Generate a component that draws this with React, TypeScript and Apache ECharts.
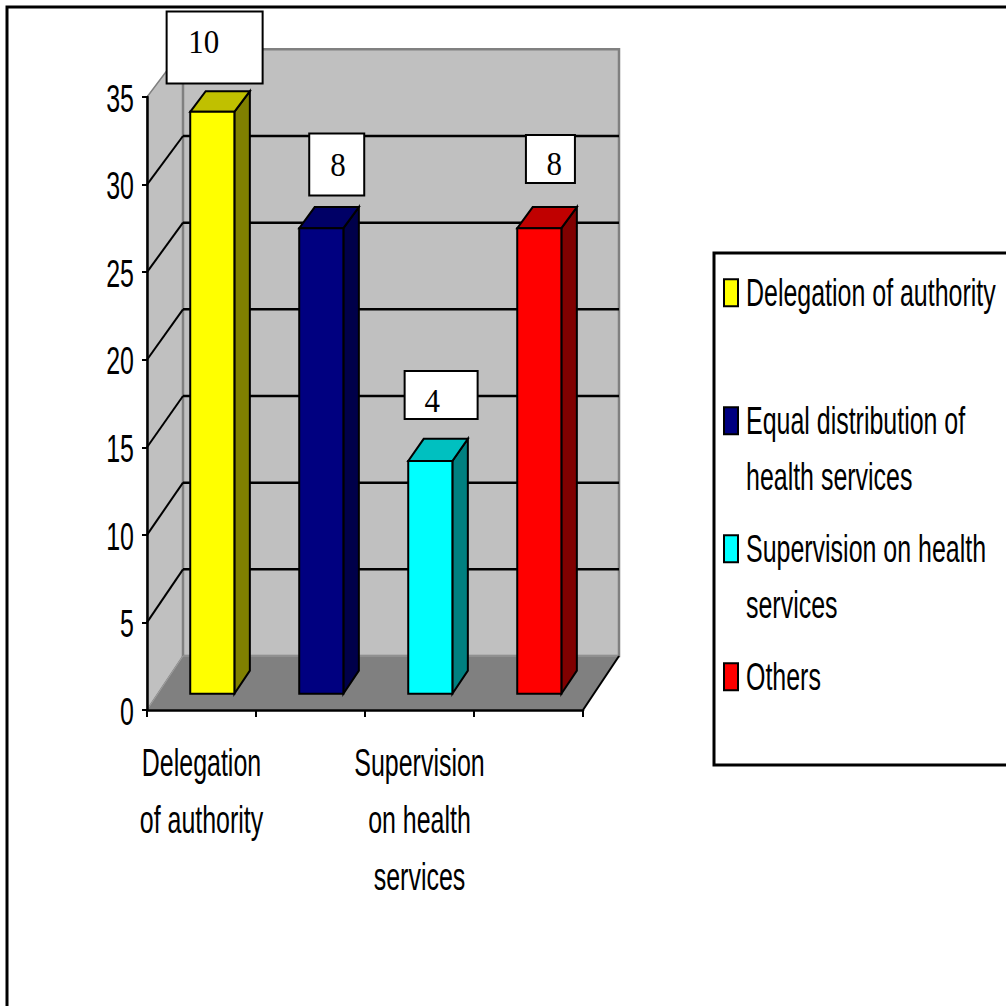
import React, { useEffect, useRef } from 'react';
import * as echarts from 'echarts';

// ---- data ----
const categories = [
  'Delegation of authority',
  'Equal distribution of health services',
  'Supervision on health services',
  'Others',
];
const respondentCounts = [10, 8, 4, 8];
const yAxisMax = 35;
const yAxisStep = 5;

const totalRespondents = respondentCounts.reduce((a, b) => a + b, 0);
const percentShares = respondentCounts.map((c) => (c / totalRespondents) * 100);

// ---- styling ----
const frontColors = ['#ffff00', '#000080', '#00ffff', '#ff0000'];
const topColors = ['#c0c000', '#000066', '#00c0c0', '#c00000'];
const sideColors = ['#808000', '#00004a', '#008080', '#800000'];

const SANS = '"Liberation Sans", Arial, sans-serif';
const SERIF = '"Liberation Serif", "Times New Roman", serif';
// tall, condensed lettering
const SANS_SIZE = 39;
const SANS_SCALE_X = 0.64;

// oblique depth of the 3D box (pixels from the front plane to the back wall)
const DEPTH_DX = 36;
const DEPTH_DY = -54;
const DEPTH_SHRINK = 0.0103;
const BAR_FRONT = 0.3;
const BAR_BACK = 0.73;
const BAR_WIDTH_RATIO = 0.405;

// value boxes, placed relative to the front-top-left corner of each bar
const labelBoxes = [
  { dx: -23.6, dy: -28.3, w: 96, h: 72, tx: 37, ty: 30 },
  { dx: 10, dy: -32.7, w: 55, h: 62, tx: 28.7, ty: 31 },
  { dx: -3.6, dy: -42, w: 73, h: 48, tx: 27.6, ty: 29 },
  { dx: 8.7, dy: -45.3, w: 49, h: 48, tx: 28.3, ty: 28.7 },
];

function wrapWords(name: string, maxChars: number): string[] {
  const words = name.split(' ');
  const lines: string[] = [];
  let cur = '';
  for (const w of words) {
    const next = cur ? cur + ' ' + w : w;
    if (next.length > maxChars && cur) {
      lines.push(cur);
      cur = w;
    } else {
      cur = next;
    }
  }
  if (cur) lines.push(cur);
  return lines;
}

function sansText(text: string, x: number, y: number, align: string) {
  return {
    type: 'text',
    x,
    y,
    scaleX: SANS_SCALE_X,
    style: {
      text,
      font: `${SANS_SIZE}px ${SANS}`,
      fill: '#000',
      align,
      verticalAlign: 'middle',
      textAlign: align,
      textVerticalAlign: 'middle',
    },
  };
}

function project(x: number, y: number, y0: number, f: number): number[] {
  return [x + f * DEPTH_DX, y0 + f * DEPTH_DY - (y0 - y) * (1 - f * DEPTH_SHRINK)];
}

// box walls, floor, gridlines and the axis labels
function renderFrame(params: any, api: any) {
  const cs = params.coordSys;
  const L = cs.x;
  const R = cs.x + cs.width;
  const y0 = api.coord([0, 0])[1];
  const yTop = api.coord([0, yAxisMax])[1];
  const P = (x: number, y: number, f: number) => project(x, y, y0, f);
  const children: any[] = [];
  children.push({
    type: 'polygon',
    shape: { points: [[L, yTop], [L, y0], P(L, y0, 1), P(L, yTop, 1)] },
    style: { fill: '#c0c0c0', stroke: '#808080', lineWidth: 1.5 },
  });
  children.push({
    type: 'polygon',
    shape: { points: [P(L, yTop, 1), P(R, yTop, 1), P(R, y0, 1), P(L, y0, 1)] },
    style: { fill: '#c0c0c0', stroke: '#808080', lineWidth: 2.5 },
  });
  children.push({
    type: 'polygon',
    shape: { points: [[L, y0], [R, y0], P(R, y0, 1), P(L, y0, 1)] },
    style: { fill: '#808080', stroke: '#a0a0a0', lineWidth: 1 },
  });
  const fr = P(R, y0, 1);
  children.push({
    type: 'line',
    shape: { x1: R, y1: y0, x2: fr[0], y2: fr[1] },
    style: { stroke: '#000', lineWidth: 2 },
  });
  for (let v = yAxisStep; v < yAxisMax; v += yAxisStep) {
    const yv = api.coord([0, v])[1];
    const a = P(L, yv, 1);
    const b = P(R, yv, 1);
    children.push({
      type: 'line',
      shape: { x1: a[0], y1: a[1], x2: b[0], y2: b[1] },
      style: { stroke: '#000', lineWidth: 2.5 },
    });
    children.push({
      type: 'line',
      shape: { x1: L, y1: yv, x2: a[0], y2: a[1] },
      style: { stroke: '#000', lineWidth: 2 },
    });
  }
  // value-axis labels
  for (let v = 0; v <= yAxisMax; v += yAxisStep) {
    const yv = api.coord([0, v])[1];
    children.push(sansText(String(v), L - 13, yv + 1, 'right'));
  }
  // category labels, every other category as the axis shows them
  categories.forEach((name, i) => {
    if (i % 2 !== 0) return;
    const cx = api.coord([i, 0])[0];
    wrapWords(name, 12).forEach((line, j) => {
      children.push(sansText(line, cx, y0 + 52 + j * 57, 'center'));
    });
  });
  return { type: 'group', children };
}

function renderBar(params: any, api: any) {
  const i = api.value(0);
  const v = api.value(1);
  const base = api.coord([i, 0]);
  const top = api.coord([i, v]);
  const band = api.size([1, 0])[0];
  const half = (band * BAR_WIDTH_RATIO) / 2;
  const y0 = base[1];
  const xl = base[0] - half;
  const xr = base[0] + half;
  const P = (x: number, y: number, f: number) => project(x, y, y0, f);
  const flb = P(xl, y0, BAR_FRONT);
  const frb = P(xr, y0, BAR_FRONT);
  const flt = P(xl, top[1], BAR_FRONT);
  const frt = P(xr, top[1], BAR_FRONT);
  const blt = P(xl, top[1], BAR_BACK);
  const brt = P(xr, top[1], BAR_BACK);
  const brb = P(xr, y0, BAR_BACK);
  const edge = { stroke: '#000', lineWidth: 2, lineJoin: 'miter' };
  const box = labelBoxes[i];
  const bx = flt[0] + box.dx;
  const by = flt[1] + box.dy - box.h;
  return {
    type: 'group',
    children: [
      { type: 'polygon', shape: { points: [frb, frt, brt, brb] }, style: { fill: sideColors[i], ...edge } },
      { type: 'polygon', shape: { points: [flt, frt, brt, blt] }, style: { fill: topColors[i], ...edge } },
      { type: 'polygon', shape: { points: [flb, frb, frt, flt] }, style: { fill: frontColors[i], ...edge } },
      {
        type: 'rect',
        shape: { x: bx, y: by, width: box.w, height: box.h },
        style: { fill: '#ffffff', stroke: '#000', lineWidth: 2 },
      },
      {
        type: 'text',
        x: bx + box.tx,
        y: by + box.ty,
        scaleY: 1.12,
        style: {
          text: String(respondentCounts[i]),
          font: `31px ${SERIF}`,
          fill: '#000',
          align: 'center',
          verticalAlign: 'middle',
          textAlign: 'center',
          textVerticalAlign: 'middle',
        },
      },
    ],
  };
}

function buildLegend(): any[] {
  const left = 714;
  const top = 253;
  const firstCenter = 292.7;
  const slot = 128;
  const lineGap = 56;
  const els: any[] = [
    {
      type: 'rect',
      shape: { x: left, y: top, width: 400, height: 512 },
      style: { fill: '#ffffff', stroke: '#000', lineWidth: 3 },
    },
  ];
  categories.forEach((name, k) => {
    const cy = firstCenter + k * slot;
    els.push({
      type: 'rect',
      shape: { x: 724, y: cy - 13.5, width: 14, height: 27 },
      style: { fill: frontColors[k], stroke: '#000', lineWidth: 2 },
    });
    wrapWords(name, 23).forEach((line, j) => {
      els.push(sansText(line, 746, cy + j * lineGap, 'left'));
    });
  });
  return els;
}

export default function App() {
  const ref = useRef<HTMLDivElement>(null);

  useEffect(() => {
    if (!ref.current) return;
    const chart = echarts.init(ref.current, null, { renderer: 'svg' });
    chart.setOption({
      animation: false,
      backgroundColor: '#ffffff',
      grid: { left: 147, top: 97, width: 436, height: 613, containLabel: false },
      xAxis: {
        type: 'category',
        data: categories,
        z: 4,
        axisLine: { show: true, lineStyle: { color: '#000', width: 2.5 } },
        axisTick: { show: true, length: 7, interval: 0, lineStyle: { color: '#000', width: 2 } },
        axisLabel: { show: false },
        splitLine: { show: false },
      },
      yAxis: {
        type: 'value',
        min: 0,
        max: yAxisMax,
        interval: yAxisStep,
        z: 4,
        axisLine: { show: true, lineStyle: { color: '#000', width: 2.5 } },
        axisTick: { show: true, length: 5, lineStyle: { color: '#000', width: 2 } },
        axisLabel: { show: false },
        splitLine: { show: false },
      },
      graphic: [
        {
          type: 'rect',
          z: 0,
          shape: { x: 7, y: 7, width: 1010, height: 1010 },
          style: { fill: 'none', stroke: '#000', lineWidth: 3 },
        },
        ...buildLegend(),
      ],
      series: [
        {
          type: 'custom',
          z: 1,
          silent: true,
          renderItem: renderFrame,
          data: [[0, 0]],
        },
        {
          type: 'custom',
          name: 'Share of respondents (%)',
          z: 2,
          renderItem: renderBar,
          encode: { x: 0, y: 1 },
          data: percentShares.map((p, i) => [i, p]),
        },
      ],
    });
    return () => chart.dispose();
  }, []);

  return (
    <div
      ref={ref}
      style={{ position: 'fixed', left: 0, top: 0, width: 1006, height: 1006, background: '#fff' }}
    />
  );
}
